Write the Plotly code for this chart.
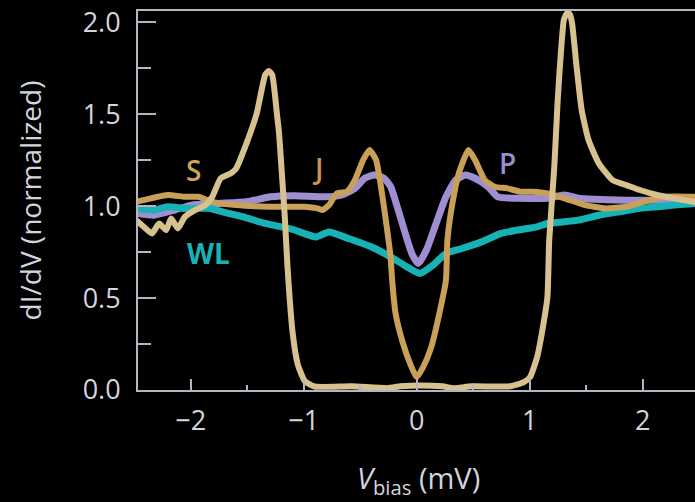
import plotly.graph_objects as go

# ---- data ----
s_x = [-2.48, -2.415, -2.343, -2.279, -2.218, -2.173, -2.113, -2.052, -1.961, -1.870, -1.809, -1.734,
       -1.643, -1.597, -1.506, -1.415, -1.340, -1.309, -1.279, -1.234, -1.218, -1.197, -1.167, -1.143, -1.097,
       -1.052, -0.991, -0.903, -0.575, -0.259, -0.144, 0.028, 0.227, 0.330, 0.485, 0.830, 0.948, 1.003,
       1.066, 1.112, 1.157, 1.173, 1.218, 1.248, 1.278, 1.303, 1.330, 1.355, 1.375, 1.415, 1.460, 1.521, 1.612,
       1.733, 1.855, 1.975, 2.127, 2.275, 2.445, 2.48]
s_y = [0.924, 0.888, 0.852, 0.906, 0.870, 0.933, 0.879, 0.942, 0.979, 1.006, 1.051, 1.152,
       1.179, 1.206, 1.342, 1.506, 1.715, 1.735, 1.715, 1.487, 1.399, 1.215, 0.942, 0.670, 0.308,
       0.139, 0.049, 0.019, 0.020, 0.010, 0.020, 0.025, 0.020, 0.010, 0.020, 0.020, 0.043, 0.070,
       0.179, 0.324, 0.506, 0.815, 1.215, 1.578, 1.851, 2.015, 2.050, 2.045, 1.997, 1.760, 1.524, 1.360, 1.233,
       1.142, 1.115, 1.088, 1.061, 1.043, 1.024, 1.020]

j_x = [-2.48, -2.204, -2.052, -1.931, -1.809, -1.597, -1.297, -0.991, -0.877, -0.834, -0.776, -0.705,
       -0.618, -0.547, -0.474, -0.417, -0.359, -0.316, -0.273, -0.231, -0.217, -0.187, -0.129, -0.058,
       0.0, 0.057, 0.129, 0.201, 0.259, 0.272, 0.316, 0.373, 0.459, 0.517, 0.603, 0.690, 0.804, 0.919,
       1.036, 1.157, 1.309, 1.490, 1.672, 1.854, 2.005, 2.187, 2.48]
j_y = [1.024, 1.061, 1.051, 1.051, 1.024, 1.006, 0.997, 0.997, 0.988, 0.979, 1.006, 1.070,
       1.079, 1.142, 1.251, 1.306, 1.251, 1.106, 0.924, 0.724, 0.597, 0.417, 0.270, 0.144,
       0.070, 0.124, 0.233, 0.417, 0.597, 0.815, 1.015, 1.179, 1.306, 1.251, 1.142, 1.106, 1.097, 1.079,
       1.079, 1.070, 1.043, 1.006, 0.988, 0.997, 1.024, 1.051, 1.051]

p_x = [-2.48, -2.325, -2.143, -1.991, -1.749, -1.506, -1.294, -1.082, -0.805, -0.661, -0.547, -0.460,
       -0.374, -0.288, -0.230, -0.172, -0.101, -0.043, 0.014, 0.086, 0.172, 0.259, 0.345, 0.431, 0.517,
       0.632, 0.718, 0.919, 1.157, 1.309, 1.430, 1.855, 2.157, 2.48]
p_y = [0.961, 0.951, 0.979, 1.006, 1.015, 1.024, 1.051, 1.057, 1.051, 1.061, 1.097, 1.152,
       1.170, 1.152, 1.106, 0.997, 0.852, 0.743, 0.688, 0.761, 0.906, 1.051, 1.142, 1.170, 1.152,
       1.106, 1.051, 1.043, 1.043, 1.061, 1.043, 1.033, 1.033, 1.033]

wl_x = [-2.48, -2.325, -2.204, -2.052, -1.840, -1.718, -1.536, -1.340, -1.106, -0.891, -0.776, -0.603,
        -0.403, -0.230, -0.086, 0.028, 0.143, 0.259, 0.402, 0.574, 0.747, 0.890, 1.066, 1.157, 1.309,
        1.430, 1.612, 1.794, 1.975, 2.127, 2.278, 2.48]
wl_y = [0.988, 0.979, 0.997, 0.988, 0.988, 0.969, 0.942, 0.906, 0.875, 0.833, 0.860, 0.824,
        0.779, 0.724, 0.670, 0.634, 0.679, 0.743, 0.770, 0.806, 0.852, 0.870, 0.888, 0.906, 0.915,
        0.924, 0.951, 0.969, 0.988, 0.997, 1.006, 1.015]

labels = ["S", "J", "P", "WL"]
label_x = [-1.976, -0.877, 0.804, -1.843]
label_y = [1.197, 1.206, 1.233, 0.744]

x_ticks = [-2, -1, 0, 1, 2]
y_ticks = [0.0, 0.5, 1.0, 1.5, 2.0]
y_tick_text = ["0.0", "0.5", "1.0", "1.5", "2.0"]

# ---- styles ----
C_S = "#d7c18f"
C_J = "#c9a057"
C_P = "#9f8ed2"
C_WL = "#17b2b5"
AX = "#b4b4c4"
TXT = "#d4d4de"
FONT = "Open Sans"

fig = go.Figure()
line_shape = dict(shape="spline", smoothing=0.5)
fig.add_trace(go.Scatter(x=p_x, y=p_y, mode="lines", line=dict(color=C_P, width=7, **line_shape), name="P"))
fig.add_trace(go.Scatter(x=wl_x, y=wl_y, mode="lines", line=dict(color=C_WL, width=7, **line_shape), name="WL"))
fig.add_trace(go.Scatter(x=j_x, y=j_y, mode="lines", line=dict(color=C_J, width=6, **line_shape), name="J"))
fig.add_trace(go.Scatter(x=s_x, y=s_y, mode="lines", line=dict(color=C_S, width=6, **line_shape), name="S"))

label_colors = ["#caa45e", "#c9954c", "#9a8bd2", C_WL]
label_weights = [600, 600, 600, 700]
for t, lx, ly, c, w in zip(labels, label_x, label_y, label_colors, label_weights):
    fig.add_annotation(x=lx, y=ly, xref="x", yref="y", text=t, showarrow=False,
                       font=dict(family=FONT, size=28, color=c, weight=w),
                       xanchor="center", yanchor="middle")

# axis titles
fig.add_annotation(x=-0.194, y=0.5, xref="paper", yref="paper", text="dI/dV (normalized)",
                   textangle=-90, showarrow=False, xanchor="center", yanchor="middle",
                   font=dict(family=FONT, size=28, color=TXT))
fig.add_annotation(x=0.504, y=-0.237, xref="paper", yref="paper",
                   text="<i>V</i><sub>bias</sub> (mV)", showarrow=False,
                   xanchor="center", yanchor="middle",
                   font=dict(family=FONT, size=29, color=TXT))

fig.update_layout(
    width=695, height=502,
    paper_bgcolor="black", plot_bgcolor="black",
    margin=dict(l=138, r=0, t=11, b=112),
    showlegend=False,
    font=dict(family=FONT, color=TXT),
)
fig.update_xaxes(
    range=[-2.466, 2.463], showgrid=False, zeroline=False,
    showline=True, linecolor=AX, linewidth=2, mirror=True,
    tickmode="array", tickvals=x_ticks,
    ticks="inside", ticklen=11, tickwidth=2, tickcolor=AX,
    minor=dict(dtick=0.5, tick0=0, ticks="inside", ticklen=5, tickwidth=2, tickcolor=AX),
    tickfont=dict(family=FONT, size=27, color=TXT), ticklabelstandoff=6,
    layer="above traces",
)
fig.update_yaxes(
    range=[0, 2.062], showgrid=False, zeroline=False,
    showline=True, linecolor=AX, linewidth=2,
    tickmode="array", tickvals=y_ticks, ticktext=y_tick_text,
    ticks="inside", ticklen=18, tickwidth=2, tickcolor=AX,
    minor=dict(dtick=0.25, tick0=0, ticks="inside", ticklen=13, tickwidth=2, tickcolor=AX),
    tickfont=dict(family=FONT, size=27, color=TXT), ticklabelstandoff=10,
    layer="above traces",
)

fig.write_html("out.html", config={"displayModeBar": False},
               post_script="document.body.style.margin='0';document.body.style.background='black';")
